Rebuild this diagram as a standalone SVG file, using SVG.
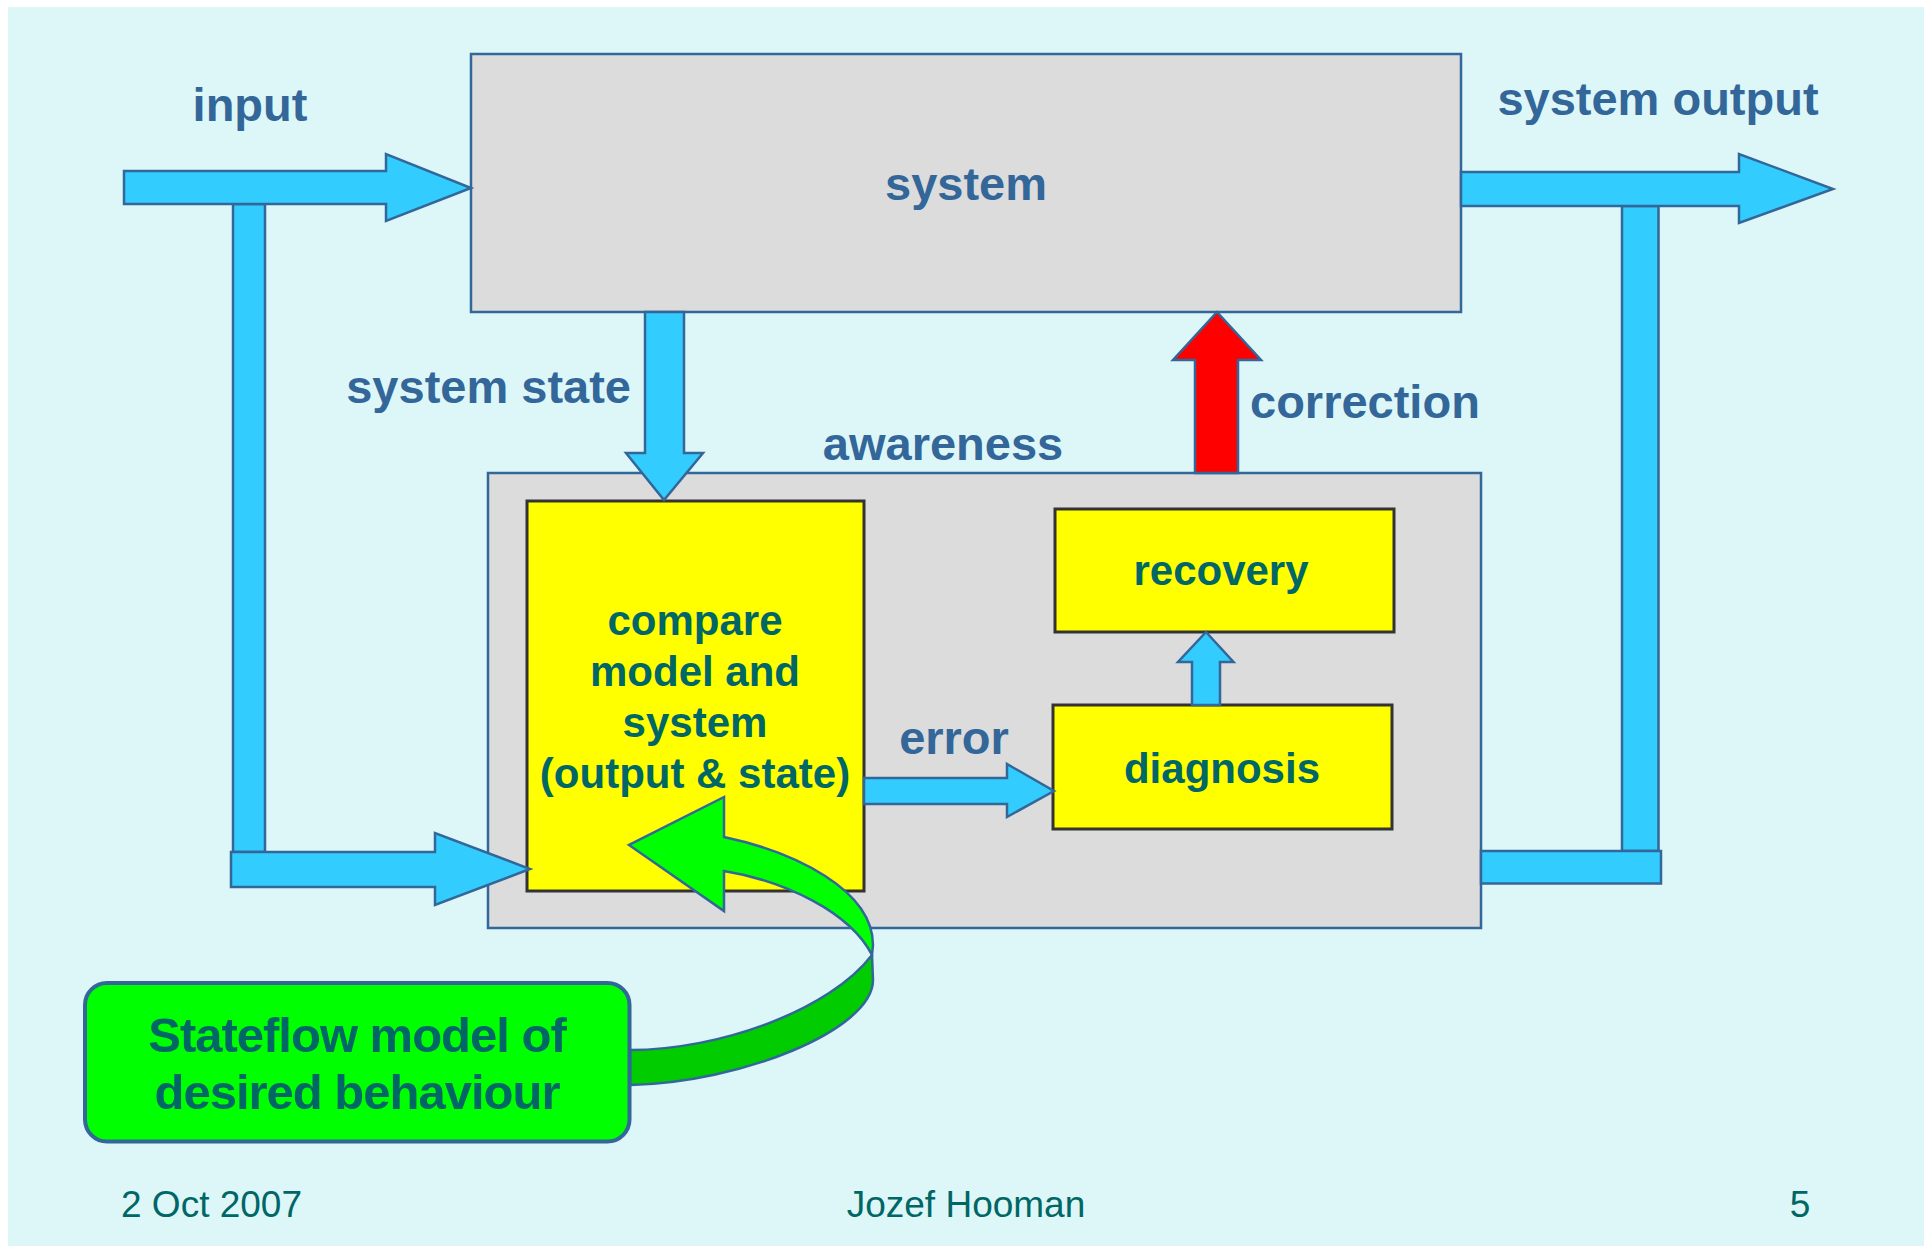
<svg xmlns="http://www.w3.org/2000/svg" width="1931" height="1248" viewBox="0 0 1931 1248">
  <style>
    .panel { fill: #DCDCDC; stroke: #336699; stroke-width: 2.5; }
    .block { fill: #FFFF00; stroke: #333333; stroke-width: 3; }
    .flow { fill: #33CCFF; stroke: #336699; stroke-width: 2.5; stroke-linejoin: miter; }
    .label { font-family: "Liberation Sans", Arial, sans-serif; font-weight: bold; font-size: 47px; fill: #336699; }
    .inner { font-family: "Liberation Sans", Arial, sans-serif; font-weight: bold; font-size: 42px; fill: #006666; text-anchor: middle; }
    .foot { font-family: "Liberation Sans", Arial, sans-serif; font-size: 37px; fill: #006666; }
  </style>

  <!-- slide background -->
  <rect x="0" y="0" width="1931" height="1248" fill="#FFFFFF"/>
  <rect x="8" y="7" width="1916" height="1239" fill="#DDF7F8"/>

  <!-- system -->
  <g id="system">
    <rect class="panel" x="471" y="54" width="990" height="258"/>
    <text class="label" x="966" y="200" text-anchor="middle">system</text>
  </g>

  <!-- awareness container -->
  <g id="awareness">
    <rect class="panel" x="488" y="473" width="993" height="455"/>
    <text class="label" x="943" y="460" text-anchor="middle">awareness</text>
  </g>

  <!-- compare -->
  <g id="compare">
    <rect class="block" x="527" y="501" width="337" height="390"/>
    <text class="inner" x="695" y="635">compare</text>
    <text class="inner" x="695" y="686">model and</text>
    <text class="inner" x="695" y="737">system</text>
    <text class="inner" x="695" y="788">(output &amp; state)</text>
  </g>

  <!-- recovery -->
  <g id="recovery">
    <rect class="block" x="1055" y="509" width="339" height="123"/>
    <text class="inner" x="1221" y="585">recovery</text>
  </g>

  <!-- diagnosis -->
  <g id="diagnosis">
    <rect class="block" x="1053" y="705" width="339" height="124"/>
    <text class="inner" x="1222" y="783">diagnosis</text>
  </g>

  <!-- connectors -->
  <g id="connectors">
    <!-- input into system, branch down to compare -->
    <rect class="flow" x="233" y="204" width="32" height="648"/>
    <polygon class="flow" points="124,171 386,171 386,154 471,188 386,221 386,204 124,204"/>
    <polygon class="flow" points="231,852 435,852 435,833 530,869 435,905 435,887 231,887"/>
    <text class="label" x="250" y="121" text-anchor="middle">input</text>

    <!-- system output, branch down to awareness -->
    <rect class="flow" x="1622" y="206" width="36.5" height="645"/>
    <rect class="flow" x="1481" y="851" width="180" height="32.5"/>
    <polygon class="flow" points="1461,172 1739,172 1739,154 1833,189 1739,223 1739,206 1461,206"/>
    <text class="label" x="1658" y="115" text-anchor="middle">system output</text>

    <!-- system state -->
    <polygon class="flow" points="645,312 684,312 684,453 703,453 664,500 626,453 645,453"/>
    <text class="label" x="631" y="403" text-anchor="end">system state</text>

    <!-- correction -->
    <polygon points="1217,312 1261,360 1238,360 1238,473 1195,473 1195,360 1173,360" fill="#FF0000" stroke="#336699" stroke-width="2.5"/>
    <text class="label" x="1250" y="418">correction</text>

    <!-- error -->
    <polygon class="flow" points="864,778 1007,778 1007,764 1054,791 1007,817 1007,804 864,804"/>
    <text class="label" x="954" y="754" text-anchor="middle">error</text>

    <!-- diagnosis to recovery -->
    <polygon class="flow" points="1206,632 1233.5,662 1220,662 1220,705 1192,705 1192,662 1178,662"/>

    <!-- curved model arrow -->
    <path d="M872,955 C830,1010 720,1050 630,1050 L630,1085 C740,1083 873,1030 873,980 Z" fill="#00CC00" stroke="#336699" stroke-width="2.5" stroke-linejoin="round"/>
    <path d="M724,797 L629,845 L724,911 L724,871 C785,881 850,912 872,955 L873,945 C873,890 795,852 724,837 Z" fill="#00FF00" stroke="#336699" stroke-width="2.5" stroke-linejoin="miter"/>
  </g>

  <!-- Stateflow model -->
  <g id="stateflow">
    <rect x="85" y="983" width="544.5" height="158.5" rx="22" ry="22" fill="#00FF00" stroke="#336699" stroke-width="4"/>
    <text class="inner" x="357" y="1052" style="font-size:49px; letter-spacing:-1px">Stateflow model of</text>
    <text class="inner" x="357" y="1109" style="font-size:49px; letter-spacing:-1px">desired behaviour</text>
  </g>

  <!-- footer -->
  <g id="footer">
    <text class="foot" x="121" y="1217">2 Oct 2007</text>
    <text class="foot" x="966" y="1217" text-anchor="middle">Jozef Hooman</text>
    <text class="foot" x="1800" y="1217" text-anchor="middle">5</text>
  </g>
</svg>
